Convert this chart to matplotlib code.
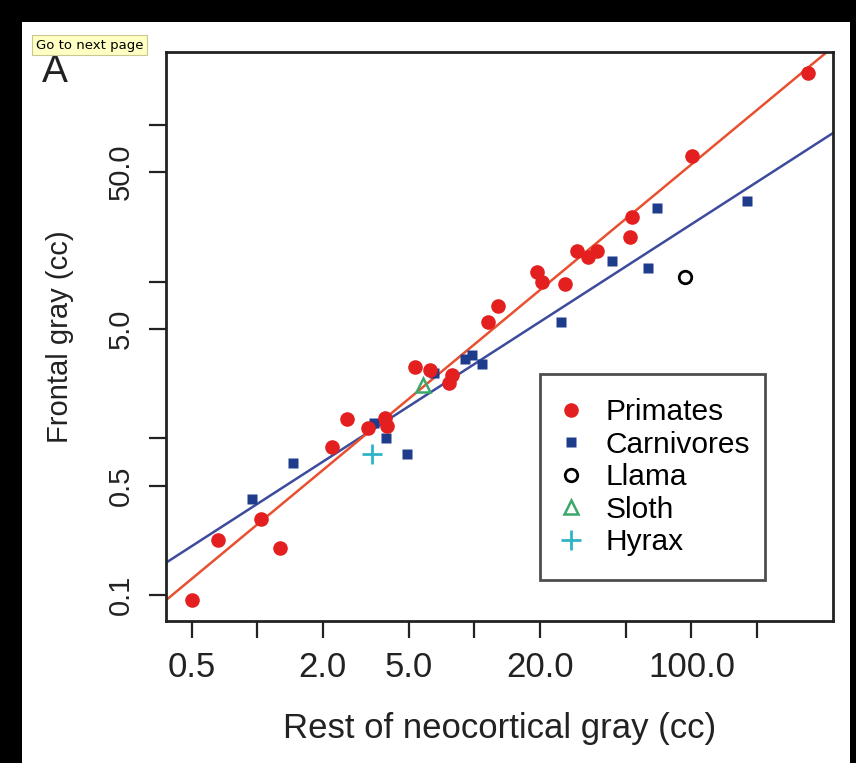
# Frontal gray vs rest of neocortical gray (log-log)

import numpy as np
import matplotlib
matplotlib.use('Agg')
import matplotlib.pyplot as plt
from matplotlib.patches import Rectangle

plt.rcParams['font.family'] = ['Liberation Sans', 'DejaVu Sans']

primates_x = [0.50, 0.66, 1.04, 1.27, 2.2, 2.58, 3.25, 3.87, 3.95, 5.33, 6.25, 7.86, 7.67,
              11.6, 12.9, 19.5, 20.4, 26.2, 29.6, 33.5, 36.6, 52.2, 53.1, 101, 346]
primates_y = [0.093, 0.224, 0.304, 0.199, 0.884, 1.33, 1.16, 1.34, 1.20, 2.86, 2.73, 2.54, 2.24,
              5.55, 6.98, 11.6, 10.0, 9.66, 15.7, 14.4, 15.7, 19.4, 25.9, 63.7, 213]
carnivores_x = [0.942, 1.455, 3.45, 3.9, 4.91, 6.5, 9.06, 9.72, 10.8, 25.1, 43, 63, 69.7, 181]
carnivores_y = [0.408, 0.693, 1.26, 1.01, 0.80, 2.6, 3.19, 3.40, 2.98, 5.5, 13.5, 12.3, 29.6, 32.7]
llama_x, llama_y = [93.5], [10.7]
sloth_x, sloth_y = [5.82], [2.19]
hyrax_x, hyrax_y = [3.37], [0.79]

# log10(y) = a + b*log10(x)
primates_fit = [-0.549, 1.1485]
carnivores_fit = [-0.418, 0.892]

xticks = [0.5, 1, 2, 5, 10, 20, 50, 100, 200]
xticklabels = ['0.5', '', '2.0', '5.0', '', '20.0', '', '100.0', '']
yticks = [0.1, 0.5, 1, 5, 10, 50, 100]
yticklabels = ['0.1', '0.5', '', '5.0', '', '50.0', '']

red = '#e3201f'
redline = '#e8502f'
blue = '#1f3c8c'
blueline = '#3d4b9c'

fig = plt.figure(figsize=(8.56, 7.63), dpi=100)
fig.patch.set_facecolor('black')
fig.add_artist(Rectangle((22/856, 0), (850-22)/856, 1 - 22/763, transform=fig.transFigure,
                         facecolor='white', edgecolor='none', zorder=-1))
ax = fig.add_axes([0.1936, 0.1865, 0.9728-0.1936, 0.9322-0.1865])
ax.set_xscale('log')
ax.set_yscale('log')
xlim = (0.378, 448)
ax.set_xlim(xlim)
ax.set_ylim(0.0686, 293)

xx = np.array(xlim)
ax.plot(xx, 10**(carnivores_fit[0] + carnivores_fit[1]*np.log10(xx)), color=blueline, lw=1.8, zorder=2)
ax.plot(xx, 10**(primates_fit[0] + primates_fit[1]*np.log10(xx)), color=redline, lw=1.8, zorder=2)

ax.plot(carnivores_x, carnivores_y, 's', color=blue, ms=7.5, mec='none', label='Carnivores', zorder=3)
ax.plot(primates_x, primates_y, 'o', color=red, ms=10.5, mec='none', label='Primates', zorder=4)
ax.plot(llama_x, llama_y, 'o', mfc='none', mec='black', mew=2, ms=9, label='Llama', zorder=4)
ax.plot(sloth_x, sloth_y, '^', mfc='none', mec='#3aa86b', mew=1.8, ms=10, label='Sloth', zorder=4)
ax.plot(hyrax_x, hyrax_y, '+', color='#2fb3c9', mew=2, ms=14, label='Hyrax', zorder=4)

ax.xaxis.set_minor_locator(matplotlib.ticker.NullLocator())
ax.yaxis.set_minor_locator(matplotlib.ticker.NullLocator())
ax.set_xticks(xticks)
ax.set_xticklabels(xticklabels, fontsize=25)
ax.set_yticks(yticks)
ax.set_yticklabels(yticklabels, fontsize=21, rotation=90, va='center')
ax.tick_params(axis='both', length=12, width=1.6, color='#222222', labelcolor='#222222')
ax.tick_params(axis='x', pad=10)
ax.tick_params(axis='y', pad=10)
for s in ax.spines.values():
    s.set_linewidth(2)
    s.set_color('#222222')

ax.set_xlabel('Rest of neocortical gray (cc)', fontsize=25, color='#222222', labelpad=20)
ax.set_ylabel('Frontal gray (cc)', fontsize=21, color='#222222', labelpad=24)

handles, labels = ax.get_legend_handles_labels()
order = ['Primates', 'Carnivores', 'Llama', 'Sloth', 'Hyrax']
hmap = dict(zip(labels, handles))
leg = ax.legend([hmap[k] for k in order], order, loc='lower left',
                bbox_to_anchor=((540-165.7)/667, (620.7-580)/569, 225/667, 205/569),
                mode='expand', borderaxespad=0, fontsize=21.5, frameon=True, fancybox=False,
                handlelength=0.5, handletextpad=0.9, labelspacing=0.15, borderpad=0.8)
leg.get_frame().set_edgecolor('#222222')
leg.get_frame().set_linewidth(2)

fig.text(55/856, 1 - 72/763, 'A', fontsize=28, ha='center', va='center', color='#222222')
fig.text(36/856, 1 - 45/763, 'Go to next page', fontsize=9.5, ha='left', va='center',
         family='DejaVu Sans', color='black',
         bbox=dict(boxstyle='square,pad=0.3', facecolor='#ffffc4', edgecolor='#c8c890', lw=0.8))

fig.savefig('out.png', dpi=100, facecolor=fig.get_facecolor())
